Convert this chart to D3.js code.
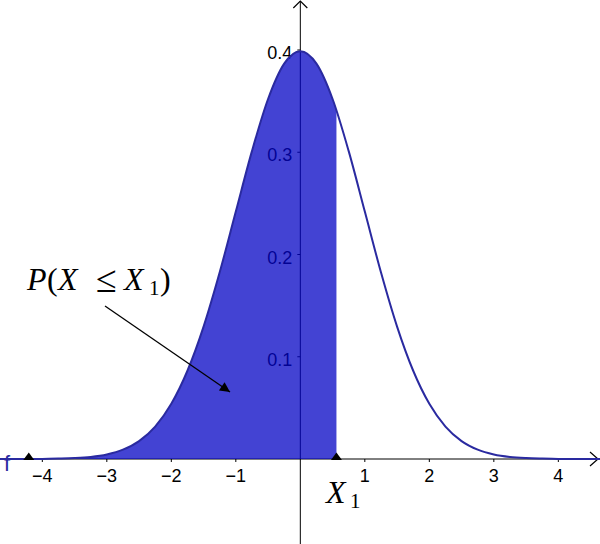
<!DOCTYPE html>
<html><head><meta charset="utf-8">
<script src="https://cdn.jsdelivr.net/npm/d3@7"></script>
<style>body{margin:0;background:#fff}svg{display:block}</style>
</head><body>
<svg id="c" width="600" height="544"></svg>
<script>
// Data
const xTicks = [-4, -3, -2, -1, 1, 2, 3, 4];
const yTicks = [0.1, 0.2, 0.3, 0.4];
const curveX = [-4.75,-4.5,-4.25,-4,-3.75,-3.5,-3.25,-3,-2.75,-2.5,-2.25,-2,-1.75,-1.5,-1.25,-1,-0.75,-0.5,-0.25,0,0.25,0.5,0.75,1,1.25,1.5,1.75,2,2.25,2.5,2.75,3,3.25,3.5,3.75,4,4.25,4.5,4.75];
const curveY = [0,0,0,0.0001,0.0004,0.0009,0.0020,0.0044,0.0091,0.0175,0.0317,0.0540,0.0863,0.1295,0.1826,0.2420,0.3011,0.3521,0.3867,0.3989,0.3867,0.3521,0.3011,0.2420,0.1826,0.1295,0.0863,0.0540,0.0317,0.0175,0.0091,0.0044,0.0020,0.0009,0.0004,0.0001,0,0,0];
const X1 = 0.56;
const leftPoint = -4.21;

const svg = d3.select("#c");
const W = 600, H = 544;
const x = d3.scaleLinear().domain([-4.656, 4.646]).range([0, 600]);
const y = d3.scaleLinear().domain([0, 0.4]).range([459, 50]);

const data = curveX.map((v, i) => ({x: v, y: curveY[i]}));
const axisCol = "#000";
const sans = "'Liberation Sans', Arial, sans-serif";
const serif = "'Liberation Serif', 'Times New Roman', serif";

// axes
const g = svg.append("g");
g.append("line").attr("x1", 0).attr("x2", 598).attr("y1", y(0)).attr("y2", y(0)).attr("stroke", axisCol).attr("stroke-width", 1);
g.append("path").attr("d", `M${590},${y(0)-7}L${598},${y(0)}L${590},${y(0)+7}`).attr("fill", "none").attr("stroke", axisCol).attr("stroke-width", 1.2);
g.append("line").attr("x1", x(0)).attr("x2", x(0)).attr("y1", 1).attr("y2", H).attr("stroke", axisCol).attr("stroke-width", 1);
g.append("path").attr("d", `M${x(0)-7},${8}L${x(0)},${1}L${x(0)+7},${8}`).attr("fill", "none").attr("stroke", axisCol).attr("stroke-width", 1.2);

// x ticks
xTicks.forEach(t => {
  g.append("line").attr("x1", x(t)).attr("x2", x(t)).attr("y1", y(0)).attr("y2", y(0) + 3).attr("stroke", axisCol);
  g.append("text").attr("x", x(t)).attr("y", y(0) + 23).attr("text-anchor", "middle")
    .style("font-family", sans).style("font-size", "18px").attr("fill", "#000")
    .text(t < 0 ? "\u2212" + Math.abs(t) : String(t));
});
// y ticks
yTicks.forEach(t => {
  g.append("line").attr("x1", x(0) - 3).attr("x2", x(0)).attr("y1", y(t)).attr("y2", y(t)).attr("stroke", axisCol);
  g.append("text").attr("x", x(0) - 8).attr("y", y(t) + 9).attr("text-anchor", "end")
    .style("font-family", sans).style("font-size", "18px").attr("fill", "#000")
    .text(String(t));
});

// shaded area
svg.append("clipPath").attr("id", "clipL").append("rect")
  .attr("x", 0).attr("y", 0).attr("width", x(X1)).attr("height", H);
const area = d3.area().x(d => x(d.x)).y0(y(0)).y1(d => y(d.y)).curve(d3.curveMonotoneX);
svg.append("path").datum(data).attr("d", area).attr("clip-path", "url(#clipL)")
  .attr("fill", "rgb(4,4,196)").attr("fill-opacity", 0.75);

// curve
const line = d3.line().x(d => x(d.x)).y(d => y(d.y)).curve(d3.curveMonotoneX);
svg.append("path").datum(data).attr("d", line).attr("fill", "none")
  .attr("stroke", "#2a2aa0").attr("stroke-width", 2);

// points on axis
[leftPoint, X1].forEach(p => {
  svg.append("path").attr("d", `M${x(p)-5.5},${y(0)+1}L${x(p)},${y(0)-6.5}L${x(p)+5.5},${y(0)+1}Z`).attr("fill", "#000");
});

// f label
svg.append("text").attr("x", 4).attr("y", 471).style("font-family", sans)
  .style("font-size", "22px").attr("fill", "#2a2aa0").text("f");

// P(X <= X1) label
const tp = svg.append("text").attr("y", 290)
  .style("font-family", serif).style("font-size", "32px").attr("fill", "#000");
tp.append("tspan").attr("x", 27).attr("font-style", "italic").text("P");
tp.append("tspan").attr("x", 47).text("(");
tp.append("tspan").attr("x", 58).attr("font-style", "italic").text("X");
tp.append("tspan").attr("x", 96).style("font-size", "38px").attr("dy", 2).text("≤");
tp.append("tspan").attr("x", 124).attr("dy", -2).attr("font-style", "italic").text("X");
tp.append("tspan").attr("x", 149).style("font-size", "21px").attr("dy", 5).text("1");
tp.append("tspan").attr("x", 160).attr("dy", -5).text(")");

// X1 label
const tx = svg.append("text").attr("y", 503)
  .style("font-family", serif).style("font-size", "32px").attr("fill", "#000");
tx.append("tspan").attr("x", 326).attr("font-style", "italic").text("X");
tx.append("tspan").attr("x", 350).style("font-size", "21px").attr("dy", 5).text("1");

// annotation arrow
svg.append("defs").append("marker").attr("id", "ah").attr("viewBox", "0 0 10 10")
  .attr("refX", 10).attr("refY", 5).attr("markerWidth", 14).attr("markerHeight", 10)
  .attr("markerUnits", "userSpaceOnUse").attr("orient", "auto")
  .append("path").attr("d", "M0,0L10,5L0,10Z").attr("fill", "#000");
svg.append("line").attr("x1", 105).attr("y1", 306).attr("x2", 230).attr("y2", 392)
  .attr("stroke", "#000").attr("stroke-width", 1.3).attr("marker-end", "url(#ah)");
</script>
</body></html>
